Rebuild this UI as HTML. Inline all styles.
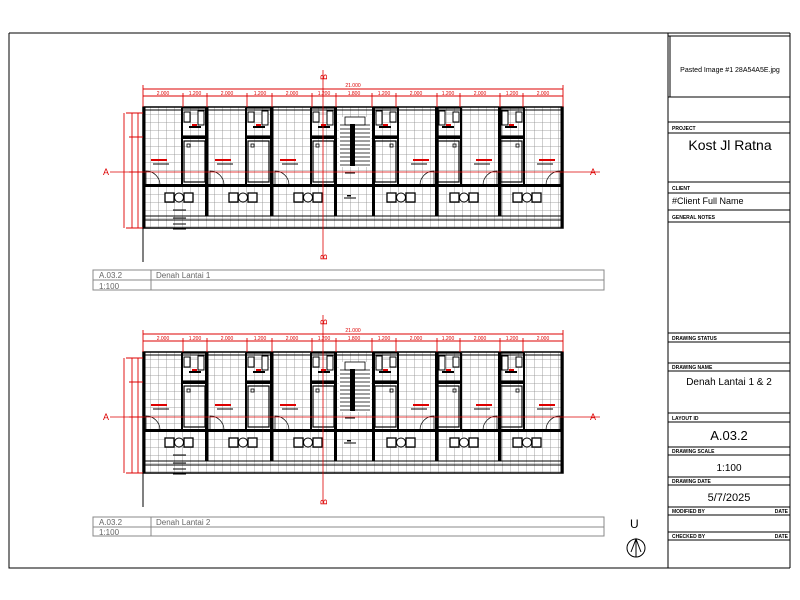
<!DOCTYPE html>
<html><head><meta charset="utf-8"><style>
html,body{margin:0;padding:0;background:#fff;}
svg{display:block;font-family:"Liberation Sans",sans-serif;}
</style></head><body>
<svg width="800" height="600" viewBox="0 0 800 600" xmlns="http://www.w3.org/2000/svg">
<defs>
<pattern id="grid" x="143" y="107" width="8" height="8" patternUnits="userSpaceOnUse">
<path d="M8 0V8M0 8H8" stroke="#8a8a8a" stroke-width="0.8" fill="none"/>
</pattern>
<pattern id="grid2" x="143" y="352" width="8" height="8" patternUnits="userSpaceOnUse">
<path d="M8 0V8M0 8H8" stroke="#8a8a8a" stroke-width="0.8" fill="none"/>
</pattern>
<g id="unit">
  <path d="M41 3H62M41 6H62" stroke="#999" stroke-width="0.6"/>
  <rect x="39" y="1" width="25" height="28" fill="none" stroke="#000" stroke-width="1.2"/>
  <rect x="41" y="5" width="6" height="10" fill="#fff" stroke="#000" stroke-width="1"/>
  <rect x="55" y="4" width="6" height="14" fill="#fff" stroke="#000" stroke-width="1"/>
  <rect x="46" y="19" width="12" height="2" fill="#000"/>
  <rect x="49" y="17" width="5" height="2" fill="#d00"/>
  <rect x="38" y="29" width="27" height="3" fill="#000"/>
  <rect x="41" y="34" width="21" height="41" fill="none" stroke="#000" stroke-width="1.2"/>
  <rect x="44" y="37" width="3" height="3" fill="none" stroke="#000" stroke-width="0.8"/>
  <rect x="38" y="1" width="2" height="78" fill="#000"/>
  <rect x="8" y="52" width="16" height="2" fill="#d00"/>
  <path d="M10 57H26" stroke="#000" stroke-width="1"/>
  <path d="M3 78V64A14 14 0 0 1 17 78" stroke="#000" stroke-width="0.7" fill="none"/>
  <rect x="22" y="86" width="9" height="9" fill="#fff" stroke="#000" stroke-width="1.3"/>
  <circle cx="36" cy="90.5" r="4.5" fill="#fff" stroke="#000" stroke-width="1"/>
  <rect x="41" y="86" width="9" height="9" fill="#fff" stroke="#000" stroke-width="1.3"/>
</g>
<g id="plan">
  <use href="#unit" transform="translate(143,107)"/>
  <use href="#unit" transform="translate(207,107)"/>
  <use href="#unit" transform="translate(272,107)"/>
  <use href="#unit" transform="translate(437,107) scale(-1,1)"/>
  <use href="#unit" transform="translate(500,107) scale(-1,1)"/>
  <use href="#unit" transform="translate(563,107) scale(-1,1)"/>
  <rect x="339" y="117" width="32" height="50" fill="#fff" stroke="none"/>
  <path d="M340 125H370M340 129H370M340 133H370M340 137H370M340 141H370M340 145H370M340 149H370M340 153H370M340 157H370M340 161H370M340 165H370" stroke="#000" stroke-width="0.7"/>
  <rect x="350" y="124" width="5" height="42" fill="#000"/>
  <rect x="345" y="117" width="20" height="8" fill="none" stroke="#000" stroke-width="0.8"/>
  <path d="M345 173H355" stroke="#000" stroke-width="1"/>
  <path d="M344 198H356" stroke="#000" stroke-width="1"/>
  <rect x="347" y="195" width="4" height="1.5" fill="#000"/>
  <rect x="143" y="107" width="420" height="121" fill="none" stroke="#000" stroke-width="1.5"/>
  <path d="M143 110H563" stroke="#000" stroke-width="1"/>
  <rect x="143" y="184" width="420" height="3" fill="#000"/>
  <path d="M143 216H563M143 220H563" stroke="#000" stroke-width="1"/>
  <rect x="205" y="107" width="3.5" height="109" fill="#000"/>
  <rect x="270" y="107" width="3.5" height="109" fill="#000"/>
  <rect x="334" y="107" width="3" height="109" fill="#000"/>
  <rect x="372" y="107" width="3" height="109" fill="#000"/>
  <rect x="435" y="107" width="3.5" height="109" fill="#000"/>
  <rect x="498" y="107" width="3.5" height="109" fill="#000"/>
  <rect x="143" y="107" width="2.5" height="121" fill="#000"/>
  <rect x="560.5" y="107" width="2.5" height="121" fill="#000"/>
  <g stroke="#d00" stroke-width="0.9" fill="none">
    <path d="M143 89H563M143 96H563"/>
    <path d="M143 85V107M183 93V107M207 93V107M247 93V107M272 93V107M312 93V107M336 93V107M372 93V107M396 93V107M437 93V107M460 93V107M500 93V107M523 93V107M563 85V107"/>
    <path d="M126 113H143M126 228H143M132 113V228M138 113V228M124 113V228M129 137H143M129 172H143"/>
  </g>
  <g fill="#d00" font-size="5" text-anchor="middle">
    <text x="353" y="87">21.000</text>
    <text x="163" y="95">2.000</text><text x="195" y="95">1.200</text><text x="227" y="95">2.000</text>
    <text x="260" y="95">1.200</text><text x="292" y="95">2.000</text><text x="324" y="95">1.200</text>
    <text x="354" y="95">1.800</text><text x="384" y="95">1.200</text><text x="416" y="95">2.000</text>
    <text x="448" y="95">1.200</text><text x="480" y="95">2.000</text><text x="512" y="95">1.200</text><text x="543" y="95">2.000</text>
  </g>
  <path d="M110 172H600" stroke="#d00" stroke-width="0.8"/>
  <path d="M323 70V258" stroke="#d00" stroke-width="0.8"/>
  <text x="103" y="175" font-size="9" fill="#d00">A</text>
  <text x="590" y="175" font-size="9" fill="#d00">A</text>
  <text x="327" y="80" font-size="9" fill="#d00" transform="rotate(-90 327 80)">B</text>
  <text x="327" y="260" font-size="9" fill="#d00" transform="rotate(-90 327 260)">B</text>
  <path d="M173 210H186M173 218H186M173 224H186M173 229H186" stroke="#000" stroke-width="1"/>
  <path d="M143 228V262" stroke="#000" stroke-width="1"/>
</g>
</defs>

<path d="M9 33H790M9 33V568H790" stroke="#000" stroke-width="1" fill="none"/>
<path d="M668 33V568M790 33V568" stroke="#000" stroke-width="1"/>

<rect x="143" y="107" width="420" height="121" fill="url(#grid)"/>
<rect x="143" y="352" width="420" height="121" fill="url(#grid2)"/>
<use href="#plan"/>
<use href="#plan" transform="translate(0,245)"/>

<g stroke="#888" stroke-width="1" fill="none">
  <rect x="93" y="270" width="511" height="20"/><path d="M93 280H604M151 270V290"/>
  <rect x="93" y="517" width="511" height="19"/><path d="M93 527H604M151 517V536"/>
</g>
<g font-size="8" fill="#666">
  <text x="99" y="278">A.03.2</text><text x="156" y="278">Denah Lantai 1</text><text x="99" y="289">1:100</text>
  <text x="99" y="525">A.03.2</text><text x="156" y="525">Denah Lantai 2</text><text x="99" y="535">1:100</text>
</g>

<text x="630" y="528" font-size="12">U</text>
<circle cx="636" cy="548" r="9" fill="none" stroke="#000" stroke-width="1"/>
<path d="M636 539V557M631 552L636 539L641 552" stroke="#000" stroke-width="1" fill="none"/>

<g stroke="#000" stroke-width="1" fill="none">
  <path d="M668 36H790M668 97H790M668 122H790M668 133H790M668 182H790M668 193H790M668 210H790M668 222H790M668 333H790M668 342H790M668 363H790M668 371H790M668 413H790M668 422H790M668 447H790M668 455H790M668 477H790M668 485H790M668 507H790M668 515H790M668 532H790M668 540H790"/>
  <path d="M670 36V97"/>
</g>
<g font-size="5" font-weight="bold" fill="#000">
  <text x="672" y="130">PROJECT</text>
  <text x="672" y="190">CLIENT</text>
  <text x="672" y="219">GENERAL NOTES</text>
  <text x="672" y="340">DRAWING STATUS</text>
  <text x="672" y="369">DRAWING NAME</text>
  <text x="672" y="420">LAYOUT ID</text>
  <text x="672" y="453">DRAWING SCALE</text>
  <text x="672" y="483">DRAWING DATE</text>
  <text x="672" y="513">MODIFIED BY</text><text x="788" y="513" text-anchor="end">DATE</text>
  <text x="672" y="538">CHECKED BY</text><text x="788" y="538" text-anchor="end">DATE</text>
</g>
<text x="730" y="72" font-size="7" text-anchor="middle">Pasted Image #1 28A54A5E.jpg</text>
<text x="730" y="150" font-size="14" text-anchor="middle">Kost Jl Ratna</text>
<text x="672" y="204" font-size="9">#Client Full Name</text>
<text x="729" y="385" font-size="10" text-anchor="middle">Denah Lantai 1 &amp; 2</text>
<text x="729" y="440" font-size="13" text-anchor="middle">A.03.2</text>
<text x="729" y="471" font-size="10" text-anchor="middle">1:100</text>
<text x="729" y="501" font-size="11" text-anchor="middle">5/7/2025</text>
</svg>
</body></html>
